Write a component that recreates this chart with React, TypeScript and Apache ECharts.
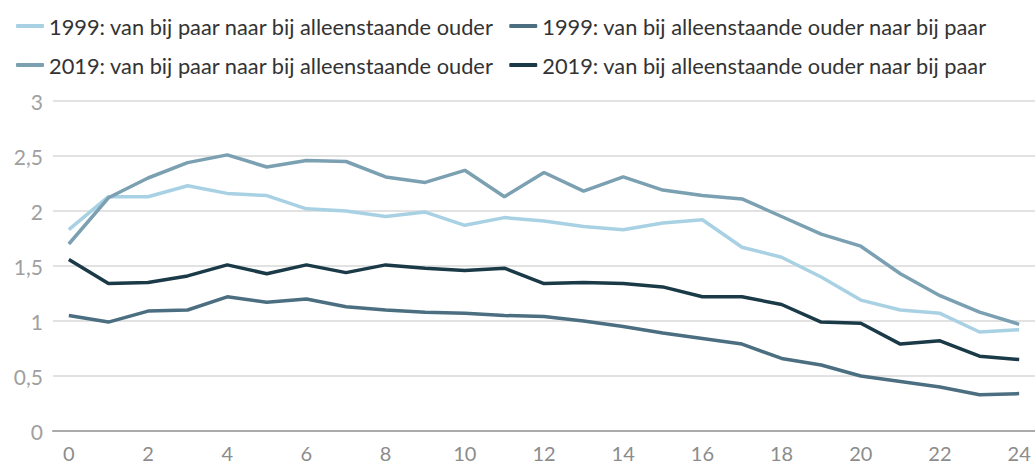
import React, { useEffect, useRef } from "react";
import * as echarts from "echarts";

const ages = [0, 1, 2, 3, 4, 5, 6, 7, 8, 9, 10, 11, 12, 13, 14, 15, 16, 17, 18, 19, 20, 21, 22, 23, 24];
const xTicks = [0, 2, 4, 6, 8, 10, 12, 14, 16, 18, 20, 22, 24];

const names = [
  "1999: van bij paar naar bij alleenstaande ouder",
  "1999: van bij alleenstaande ouder naar bij paar",
  "2019: van bij paar naar bij alleenstaande ouder",
  "2019: van bij alleenstaande ouder naar bij paar",
];

const paarNaarAlleen1999 = [1.83, 2.13, 2.13, 2.23, 2.16, 2.14, 2.02, 2.0, 1.95, 1.99, 1.87, 1.94, 1.91, 1.86, 1.83, 1.89, 1.92, 1.67, 1.58, 1.4, 1.19, 1.1, 1.07, 0.9, 0.92];
const alleenNaarPaar1999 = [1.05, 0.99, 1.09, 1.1, 1.22, 1.17, 1.2, 1.13, 1.1, 1.08, 1.07, 1.05, 1.04, 1.0, 0.95, 0.89, 0.84, 0.79, 0.66, 0.6, 0.5, 0.45, 0.4, 0.33, 0.34];
const paarNaarAlleen2019 = [1.7, 2.12, 2.3, 2.44, 2.51, 2.4, 2.46, 2.45, 2.31, 2.26, 2.37, 2.13, 2.35, 2.18, 2.31, 2.19, 2.14, 2.11, 1.95, 1.79, 1.68, 1.43, 1.23, 1.08, 0.97];
const alleenNaarPaar2019 = [1.56, 1.34, 1.35, 1.41, 1.51, 1.43, 1.51, 1.44, 1.51, 1.48, 1.46, 1.48, 1.34, 1.35, 1.34, 1.31, 1.22, 1.22, 1.15, 0.99, 0.98, 0.79, 0.82, 0.68, 0.65];

const colors = ["#a9d1e4", "#4b6f80", "#7aa0b2", "#1b3a47"];
const seriesData = [paarNaarAlleen1999, alleenNaarPaar1999, paarNaarAlleen2019, alleenNaarPaar2019];

export default function App() {
  const ref = useRef<HTMLDivElement>(null);
  useEffect(() => {
    if (!ref.current) return;
    const chart = echarts.init(ref.current, undefined, { renderer: "svg" });
    const font = "Lato";
    chart.setOption({
      animation: false,
      textStyle: { fontFamily: font },
      legend: {
        left: 11,
        top: 9,
        width: 1010,
        itemWidth: 28,
        itemHeight: 4,
        itemGap: 15,
        icon: "roundRect",
        data: names,
        textStyle: { fontSize: 21.8, color: "#333333", fontFamily: font, lineHeight: 24 },
      },
      grid: { left: 53, right: 0, top: 101, bottom: 33, containLabel: false },
      xAxis: {
        type: "value",
        min: -0.4,
        max: 24.4,
        axisLine: { show: true, lineStyle: { color: "#aaaaaa", width: 2 } },
        axisTick: { show: false },
        splitLine: { show: false },
        axisLabel: {
          customValues: xTicks,
          fontSize: 20,
          lineHeight: 20,
          color: "#8c8c8c",
          margin: 12,
          fontFamily: font,
        },
      },
      yAxis: {
        type: "value",
        min: 0,
        max: 3,
        interval: 0.5,
        axisLine: { show: false },
        axisTick: { show: false },
        splitLine: { lineStyle: { color: "#e2e2e2", width: 2 } },
        axisLabel: {
          fontSize: 21,
          color: "#a0a0a0",
          margin: 10,
          fontFamily: font,
          formatter: (v: number) => String(v).replace(".", ","),
        },
      },
      series: names.map((n, k) => ({
        name: n,
        type: "line",
        symbol: "none",
        data: ages.map((a, i) => [a, seriesData[k][i]]),
        lineStyle: { color: colors[k], width: 3.5 },
        itemStyle: { color: colors[k] },
        z: k === 0 ? 2 : 3,
      })),
    });
    return () => chart.dispose();
  }, []);
  return <div ref={ref} style={{ width: 1035, height: 464, position: "absolute", left: 0, top: 0 }} />;
}
